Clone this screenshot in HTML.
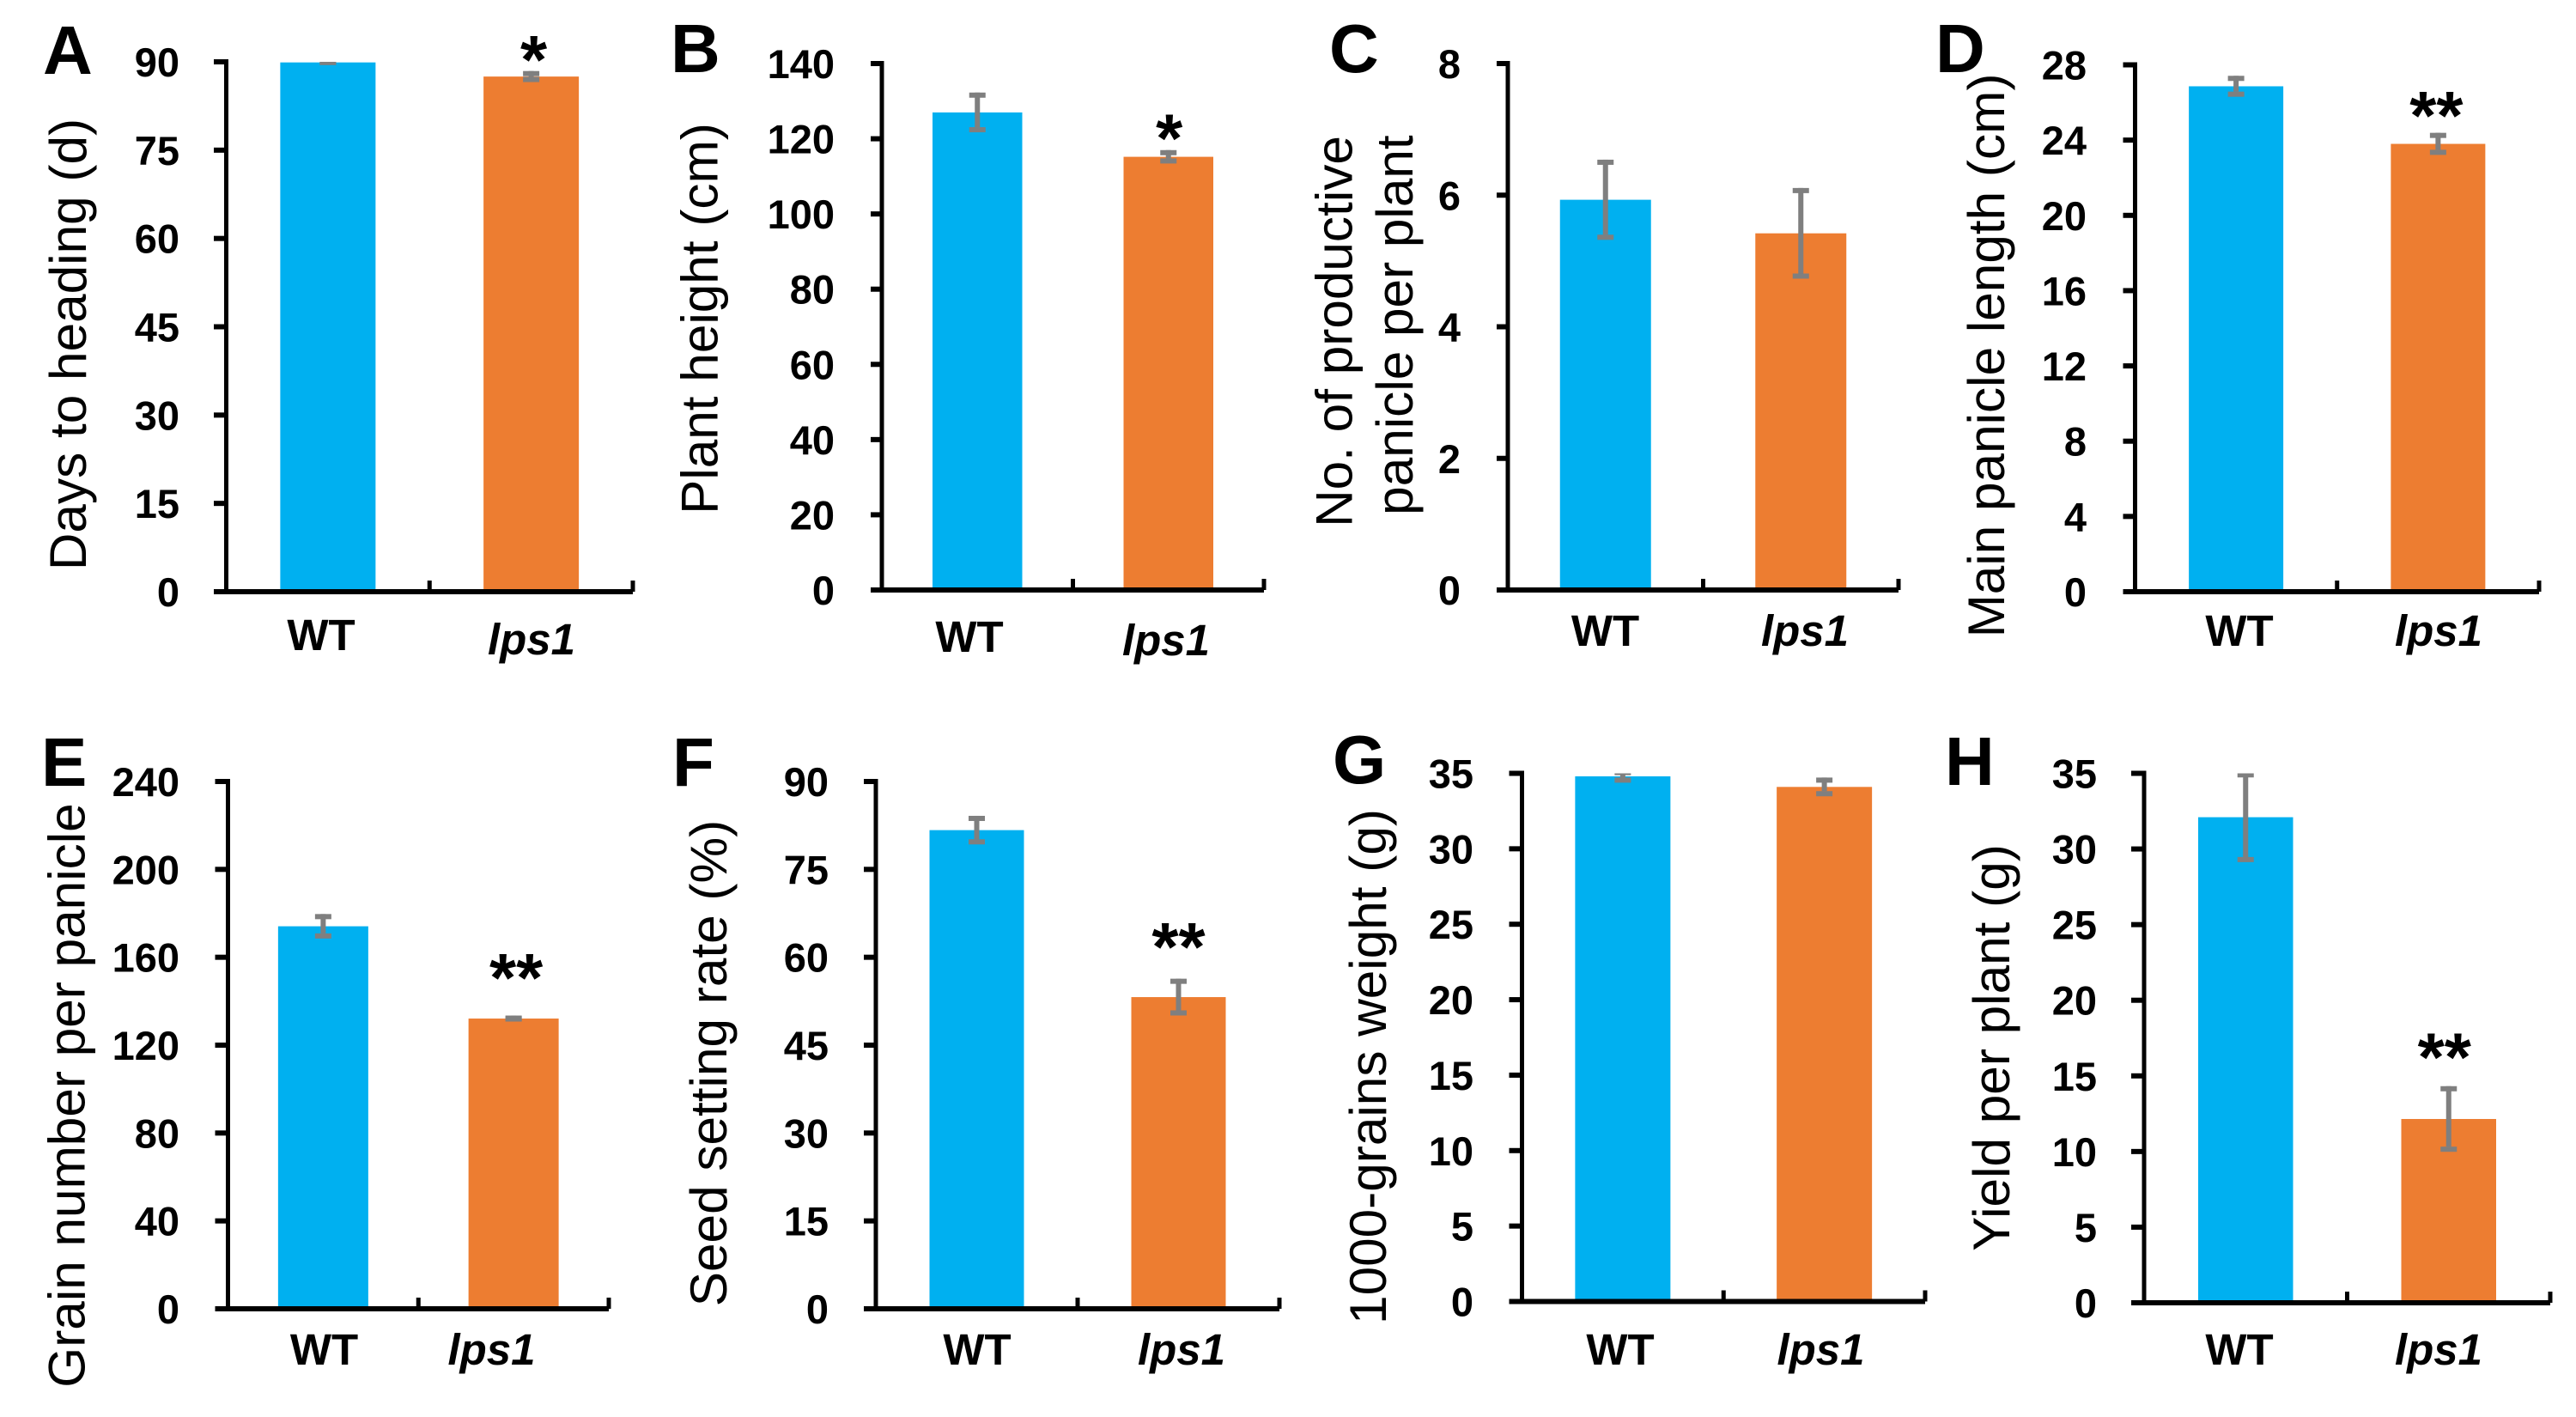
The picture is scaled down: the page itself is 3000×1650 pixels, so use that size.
<!DOCTYPE html>
<html lang="en">
<head>
<meta charset="utf-8">
<title>lps1 agronomic traits</title>
<style>
html,body{margin:0;padding:0;background:#fff;width:3000px;height:1650px;overflow:hidden}
svg{display:block;font-family:"Liberation Sans",Arial,sans-serif}
.letter{font-size:80px;font-weight:700;fill:#000}
.ytitle{font-size:60.3px;fill:#000;text-anchor:middle}
</style>
</head>
<body>
<svg id="figure" xmlns="http://www.w3.org/2000/svg" width="3000" height="1650" viewBox="0 0 3000 1650">
  <rect width="3000" height="1650" fill="#fff"/>
  <text class="letter" x="50" y="86">A</text>
  <text class="letter" x="781" y="84">B</text>
  <text class="letter" x="1548" y="84">C</text>
  <text class="letter" x="2254" y="84">D</text>
  <text class="letter" x="48" y="915">E</text>
  <text class="letter" x="783" y="915">F</text>
  <text class="letter" x="1552" y="912">G</text>
  <text class="letter" x="2265" y="914">H</text>
  <text class="ytitle" transform="translate(100 401) rotate(-90)">Days to heading (d)</text>
  <text class="ytitle" transform="translate(835.6 371) rotate(-90)">Plant height (cm)</text>
  <text class="ytitle" transform="translate(1574.5 386) rotate(-90)">No. of productive</text>
  <text class="ytitle" transform="translate(1645 378.6) rotate(-90)">panicle per plant</text>
  <text class="ytitle" transform="translate(2334 414) rotate(-90)">Main panicle length (cm)</text>
  <text class="ytitle" transform="translate(98.5 1275.5) rotate(-90)">Grain number per panicle</text>
  <text class="ytitle" transform="translate(846 1238) rotate(-90)">Seed setting rate (%)</text>
  <text class="ytitle" transform="translate(1614 1242) rotate(-90)">1000-grains weight (g)</text>
  <text class="ytitle" transform="translate(2340 1220) rotate(-90)">Yield per plant (g)</text>
</svg>
<script>
// Data
const categories = ['WT', 'lps1'];

const aTicks = [0, 15, 30, 45, 60, 75, 90];
const aValues = [89.9, 87.5];
const aErrors = [0, 0.5];
const aStars = ['', '*'];

const bTicks = [0, 20, 40, 60, 80, 100, 120, 140];
const bValues = [127, 115.2];
const bErrors = [4.6, 1.1];
const bStars = ['', '*'];

const cTicks = [0, 2, 4, 6, 8];
const cValues = [5.93, 5.42];
const cErrors = [0.57, 0.65];
const cStars = ['', ''];

const dTicks = [0, 4, 8, 12, 16, 20, 24, 28];
const dValues = [26.86, 23.8];
const dErrors = [0.42, 0.45];
const dStars = ['', '**'];

const eTicks = [0, 40, 80, 120, 160, 200, 240];
const eValues = [174.1, 132.1];
const eErrors = [4.4, 0.2];
const eStars = ['', '**'];

const fTicks = [0, 15, 30, 45, 60, 75, 90];
const fValues = [81.7, 53.2];
const fErrors = [2, 2.7];
const fStars = ['', '**'];

const gTicks = [0, 5, 10, 15, 20, 25, 30, 35];
const gValues = [34.8, 34.1];
const gErrors = [0.25, 0.45];
const gStars = ['', ''];

const hTicks = [0, 5, 10, 15, 20, 25, 30, 35];
const hValues = [32.1, 12.15];
const hErrors = [2.8, 2];
const hStars = ['', '**'];

// Panel layout (pixel frames), kept apart from the data
const panels = [
  {id:'a', ticks:aTicks, values:aValues, errors:aErrors, stars:aStars, left:263.5, right:737, top:72, bottom:689, barW:111, labelRight:209, tickL:249, wtX:374, wtY:757, lpsX:619, lpsY:762, starGap:31, starDx:3},
  {id:'b', ticks:bTicks, values:bValues, errors:bErrors, stars:bStars, left:1027, right:1472, top:74, bottom:687, barW:104.5, labelRight:972, tickL:1014, wtX:1129, wtY:759, lpsX:1358, lpsY:763, starGap:32, starDx:1},
  {id:'c', ticks:cTicks, values:cValues, errors:cErrors, stars:cStars, left:1756, right:2211, top:74, bottom:687, barW:106, labelRight:1701, tickL:1743, wtX:1869.5, wtY:752, lpsX:2102, lpsY:752, starGap:28, starDx:0},
  {id:'d', ticks:dTicks, values:dValues, errors:dErrors, stars:dStars, left:2486.5, right:2957, top:75.5, bottom:689, barW:110, labelRight:2430, tickL:2472.5, wtX:2608, wtY:752, lpsX:2840, lpsY:752, starGap:38, starDx:-2},
  {id:'e', ticks:eTicks, values:eValues, errors:eErrors, stars:eStars, left:265.5, right:709, top:910, bottom:1524, barW:105, labelRight:209, tickL:250.5, wtX:377.5, wtY:1589, lpsX:572.5, lpsY:1589, starGap:62, starDx:3},
  {id:'f', ticks:fTicks, values:fValues, errors:fErrors, stars:fStars, left:1020, right:1490, top:910, bottom:1524, barW:110, labelRight:965, tickL:1006, wtX:1138, wtY:1589, lpsX:1376, lpsY:1589, starGap:55, starDx:0},
  {id:'g', ticks:gTicks, values:gValues, errors:gErrors, stars:gStars, left:1772.5, right:2242, top:900.5, bottom:1515.5, barW:111, labelRight:1716, tickL:1757.5, wtX:1887, wtY:1589, lpsX:2120.5, lpsY:1589, starGap:30, starDx:0},
  {id:'h', ticks:hTicks, values:hValues, errors:hErrors, stars:hStars, left:2497, right:2970, top:900.5, bottom:1517, barW:110.5, labelRight:2442, tickL:2482, wtX:2608, wtY:1589, lpsX:2840, lpsY:1589, starGap:52, starDx:-5}
];

const barColors = ['#00B0F0', '#ED7D31'];
const errColor = '#7F7F7F';
const NS = 'http://www.w3.org/2000/svg';
const root = document.getElementById('figure');

function make(tag, attrs, parent) {
  const node = document.createElementNS(NS, tag);
  for (const key in attrs) node.setAttribute(key, attrs[key]);
  parent.appendChild(node);
  return node;
}

panels.forEach(function (p) {
  const g = make('g', {}, root);
  
  

  const maxTick = p.ticks[p.ticks.length - 1];
  const yScale = function (v) { return p.bottom - (v / maxTick) * (p.bottom - p.top); };
  const band = (p.right - p.left) / categories.length;
  const xScale = function (i) { return p.left + band * (i + 0.5); };

  // bars
  p.values.forEach(function (v, i) {
    const bar = make('rect', {x: xScale(i) - p.barW / 2, y: yScale(v), width: p.barW, height: p.bottom - yScale(v), fill: barColors[i]}, g);
    
    
  });

  // error bars, clipped at the axis maximum
  p.values.forEach(function (v, i) {
    const cx = xScale(i);
    const hi = yScale(v + p.errors[i]);
    const lo = yScale(v - p.errors[i]);
    const eg = make('g', {fill: errColor}, g);
    
    
    const capTop = Math.max(p.top, hi - 3);
    make('rect', {x: cx - 3, y: capTop, width: 6, height: Math.max(0, lo - hi)}, eg);
    make('rect', {x: cx - 9.5, y: capTop, width: 19, height: hi + 3 - capTop}, eg);
    make('rect', {x: cx - 9.5, y: Math.max(p.top, lo - 3), width: 19, height: lo + 3 - Math.max(p.top, lo - 3)}, eg);
  });

  // significance stars
  p.stars.forEach(function (s, i) {
    if (!s) return;
    const cy = yScale(p.values[i] + p.errors[i]) - 2.5 - p.starGap;
    const star = make('text', {x: xScale(i) + p.starDx, y: cy + 45, 'font-size': 80, 'font-weight': 700, 'text-anchor': 'middle', fill: '#000'}, g);
    
    
    star.textContent = s;
  });

  // y axis line, ticks, tick labels
  const yLine = make('rect', {x: p.left - 2.5, y: p.top - 3, width: 5, height: p.bottom - p.top + 6, fill: '#000'}, g);
  
  

  p.ticks.forEach(function (t) {
    const y = yScale(t);
    const tick = make('rect', {x: p.tickL, y: y - 3, width: p.left - p.tickL, height: 6, fill: '#000'}, g);
    
    
    const label = make('text', {x: p.labelRight, y: y + 17, 'font-size': 47, 'font-weight': 700, 'text-anchor': 'end', fill: '#000'}, g);
    
    
    label.textContent = String(t);
  });

  // x axis line and separators
  const xLine = make('rect', {x: p.left, y: p.bottom - 3, width: p.right - p.left, height: 6, fill: '#000'}, g);
  
  

  for (let k = 1; k <= categories.length; k++) {
    const tick = make('rect', {x: p.left + band * k - 2.5, y: p.bottom - 13, width: 5, height: 13, fill: '#000'}, g);
    
    
  }

  // category labels
  const wt = make('text', {x: p.wtX, y: p.wtY, 'font-size': 51, 'font-weight': 700, 'text-anchor': 'middle', fill: '#000'}, g);
  
  
  wt.textContent = categories[0];

  const lps = make('text', {x: p.lpsX, y: p.lpsY, 'font-size': 51, 'font-weight': 700, 'font-style': 'italic', 'text-anchor': 'middle', fill: '#000'}, g);
  
  
  lps.textContent = categories[1];
});
</script>
</body>
</html>
